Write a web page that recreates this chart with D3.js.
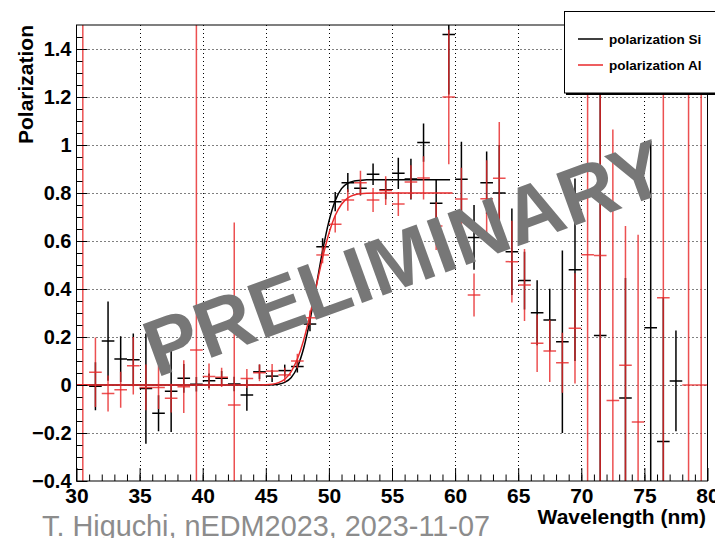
<!DOCTYPE html>
<html>
<head>
<meta charset="utf-8">
<script src="https://cdn.jsdelivr.net/npm/d3@7"></script>
<style>
  body { margin: 0; background: #fff; }
  svg { display: block; }
  text { font-family: "Liberation Sans", Arial, Helvetica, sans-serif; }
</style>
</head>
<body>
<svg id="chart" width="715" height="538"></svg>
<script>
// Bin centres (nm), 1 nm wide bins
const wavelength = [30.5, 31.5, 32.5, 33.5, 34.5, 35.5, 36.5, 37.5, 38.5, 39.5,
  40.5, 41.5, 42.5, 43.5, 44.5, 45.5, 46.5, 47.5, 48.5, 49.5,
  50.5, 51.5, 52.5, 53.5, 54.5, 55.5, 56.5, 57.5, 58.5, 59.5,
  60.5, 61.5, 62.5, 63.5, 64.5, 65.5, 66.5, 67.5, 68.5, 69.5,
  70.5, 71.5, 72.5, 73.5, 74.5, 75.5, 76.5, 77.5, 78.5, 79.5];

// polarization Si (black); null = no point
const siValue = [null, -0.005, 0.183, 0.108, 0.105, -0.015, -0.118, -0.026, 0.028, 0.003,
  0.018, 0.028, 0.004, -0.042, 0.055, 0.037, 0.06, 0.077, 0.254, 0.576,
  0.764, 0.843, 0.82, 0.878, 0.814, 0.882, 0.858, 1.01, 0.757, 1.46,
  0.857, 0.615, 0.843, 0.8, 0.555, 0.435, 0.301, 0.271, 0.18, 0.48,
  null, 0.206, null, -0.054, null, 0.239, -0.235, 0.017, null, null];
const siError = [null, 0.10, 0.165, 0.095, 0.11, 0.23, 0.075, 0.17, 0.06, 0.03,
  0.03, 0.03, 0.03, 0.065, 0.03, 0.025, 0.025, 0.025, 0.03, 0.035,
  0.04, 0.04, 0.03, 0.045, 0.04, 0.065, 0.085, 0.08, 0.1, 0.25,
  0.157, 0.135, 0.13, 0.2, 0.18, 0.12, 0.135, 0.13, 0.38, 0.38,
  null, 2.0, null, 0.5, null, 0.78, 0.6, 0.21, null, null];

// polarization Al (red)
const alValue = [0.0, 0.053, -0.035, -0.02, 0.08, -0.01, -0.01, -0.055, -0.007, 0.146,
  0.035, 0.032, -0.083, 0.027, 0.051, 0.058, 0.042, 0.10, 0.28, 0.542,
  0.67, 0.771, 0.843, 0.771, 0.81, 0.754, 0.846, 0.863, 0.662, 1.2,
  0.775, 0.375, 0.776, 0.861, 0.514, 0.417, 0.174, 0.142, 0.093, 0.236,
  0.543, 0.54, -0.065, 0.082, -0.154, null, 0.364, null, 0.0, 0.0];
const alError = [2.0, 0.145, 0.075, 0.075, 0.12, 0.095, 0.09, 0.06, 0.11, 2.0,
  0.055, 0.04, 0.76, 0.04, 0.035, 0.03, 0.03, 0.03, 0.03, 0.035,
  0.035, 0.045, 0.05, 0.05, 0.06, 0.05, 0.07, 0.09, 0.1, 0.28,
  0.13, 0.09, 0.16, 0.235, 0.17, 0.15, 0.12, 0.13, 0.125, 0.23,
  2.0, 2.0, 1.13, 0.58, 0.78, null, 2.0, null, 2.0, 2.0];

// fitted curves
const siFitX = [30, 44, 45, 45.5, 46, 46.5, 47, 47.5, 48, 48.5, 49, 49.5, 50, 50.5, 51, 51.5, 52, 52.5, 53, 54, 59.6];
const siFitY = [0, 0, 0.0001, 0.001, 0.0034, 0.011, 0.03, 0.074, 0.153, 0.269, 0.413, 0.559, 0.682, 0.768, 0.818, 0.841, 0.85, 0.853, 0.855, 0.855, 0.855];
const alFitX = [30, 44, 45, 45.5, 46, 46.5, 47, 47.5, 48, 48.5, 49, 49.5, 50, 50.5, 51, 51.5, 52, 52.5, 53, 54, 59.8];
const alFitY = [0, 0, 0.001, 0.003, 0.01, 0.024, 0.055, 0.108, 0.187, 0.292, 0.412, 0.53, 0.631, 0.706, 0.753, 0.78, 0.792, 0.797, 0.799, 0.8, 0.8];

const xTicks = [30, 35, 40, 45, 50, 55, 60, 65, 70, 75, 80];
const yTicks = [-0.4, -0.2, 0, 0.2, 0.4, 0.6, 0.8, 1, 1.2, 1.4];

const legendLabels = ['polarization Si', 'polarization Al'];
const seriesColors = ['#000000', '#e8292b'];

const svg = d3.select('#chart');
svg.append('rect').attr('width', 715).attr('height', 538).attr('fill', '#fff');

const x = d3.scaleLinear().domain([30, 80]).range([76.5, 707.5]);
const y = d3.scaleLinear().domain([-0.4, 1.5]).range([481, 25]);

// dotted grid
const grid = svg.append('g').attr('stroke', '#000').attr('stroke-width', 1).attr('stroke-dasharray', '1,3');
grid.selectAll('line.gx').data(xTicks.filter(d => d > 30 && d < 80)).join('line')
  .attr('x1', d => Math.round(x(d)) + 0.5).attr('x2', d => Math.round(x(d)) + 0.5)
  .attr('y1', y(1.5)).attr('y2', y(-0.4));
grid.selectAll('line.gy').data(yTicks.filter(d => d > -0.4)).join('line')
  .attr('y1', d => Math.round(y(d)) + 0.5).attr('y2', d => Math.round(y(d)) + 0.5)
  .attr('x1', x(30)).attr('x2', x(80));

// clip
svg.append('clipPath').attr('id', 'plotclip').append('rect')
  .attr('x', x(30)).attr('y', y(1.5)).attr('width', x(80) - x(30)).attr('height', y(-0.4) - y(1.5));
const plot = svg.append('g').attr('clip-path', 'url(#plotclip)');

function drawSeries(values, errors, color, opacity) {
  const pts = wavelength.map((w, i) => ({ w, v: values[i], e: errors[i] })).filter(d => d.v !== null);
  const g = plot.append('g').attr('stroke', color).attr('stroke-width', 1.5).attr('stroke-opacity', opacity);
  g.selectAll('line.v').data(pts).join('line')
    .attr('x1', d => x(d.w)).attr('x2', d => x(d.w))
    .attr('y1', d => y(d.v - d.e)).attr('y2', d => y(d.v + d.e));
  g.selectAll('line.h').data(pts).join('line')
    .attr('x1', d => x(d.w - 0.5)).attr('x2', d => x(d.w + 0.5))
    .attr('y1', d => y(d.v)).attr('y2', d => y(d.v));
}

function drawFit(fx, fy, color) {
  const line = d3.line().x(d => x(d[0])).y(d => y(d[1])).curve(d3.curveMonotoneX);
  plot.append('path').datum(fx.map((v, i) => [v, fy[i]]))
    .attr('d', line).attr('fill', 'none').attr('stroke', color).attr('stroke-width', 1.5);
}

drawSeries(siValue, siError, seriesColors[0], 1);
drawFit(siFitX, siFitY, seriesColors[0]);
drawSeries(alValue, alError, seriesColors[1], 0.82);
drawFit(alFitX, alFitY, seriesColors[1]);

// axes
function styleAxis(g) {
  g.select('.domain').remove();
  g.selectAll('line').attr('stroke', '#000').attr('stroke-width', 1);
  g.selectAll('text').attr('fill', '#000').attr('font-weight', 'bold');
}
svg.append('g').attr('transform', `translate(0,${y(-0.4)})`)
  .call(d3.axisBottom(x).tickValues(d3.range(31, 80, 1)).tickSize(-6.5).tickFormat(''))
  .call(styleAxis);
svg.append('g').attr('transform', `translate(0,${y(-0.4)})`)
  .call(d3.axisBottom(x).tickValues(xTicks).tickSize(-13).tickPadding(7).tickFormat(d3.format('d')))
  .call(styleAxis)
  .selectAll('text').attr('font-size', 21).attr('font-family', '"Liberation Sans", Arial, sans-serif');

svg.append('g').attr('transform', `translate(${x(30)},0)`)
  .call(d3.axisLeft(y).tickValues(d3.range(-0.35, 1.5, 0.05)).tickSize(-6).tickFormat(''))
  .call(styleAxis);
svg.append('g').attr('transform', `translate(${x(30)},0)`)
  .call(d3.axisLeft(y).tickValues(yTicks).tickSize(-11).tickPadding(5).tickFormat(d3.format('~g')))
  .call(styleAxis)
  .selectAll('text').attr('font-size', 20).attr('font-family', '"Liberation Sans", Arial, sans-serif');

// frame
svg.append('rect').attr('x', x(30)).attr('y', y(1.5))
  .attr('width', x(80) - x(30)).attr('height', y(-0.4) - y(1.5))
  .attr('fill', 'none').attr('stroke', '#000').attr('stroke-width', 1);

// axis titles
svg.append('text').attr('transform', `translate(33,${y(1.5)}) rotate(-90)`)
  .attr('text-anchor', 'end').attr('font-size', 21).attr('font-weight', 'bold')
  .text('Polarization');
svg.append('text').attr('x', 706).attr('y', 524)
  .attr('text-anchor', 'end').attr('font-size', 21).attr('font-weight', 'bold')
  .text('Wavelength (nm)');

// legend
const legend = svg.append('g');
legend.append('rect').attr('x', 566).attr('y', 13).attr('width', 170).attr('height', 82).attr('fill', '#000');
legend.append('rect').attr('x', 564.5).attr('y', 11.5).attr('width', 170).attr('height', 81.5)
  .attr('fill', '#fff').attr('stroke', '#000').attr('stroke-width', 1);
legendLabels.forEach((lab, i) => {
  const ly = 39 + i * 26;
  legend.append('line').attr('x1', 578).attr('x2', 603).attr('y1', ly).attr('y2', ly)
    .attr('stroke', seriesColors[i]).attr('stroke-width', 1.5);
  legend.append('text').attr('x', 609).attr('y', ly + 5)
    .attr('font-size', 13.5).attr('font-weight', 'bold').text(lab);
});

// watermark
svg.append('text').attr('transform', 'translate(414,284) rotate(-20)')
  .attr('text-anchor', 'middle').attr('font-size', 80).attr('font-weight', 'bold')
  .attr('fill', '#777').text('PRELIMINARY');

// footer
svg.append('text').attr('x', 42).attr('y', 536)
  .attr('font-family', 'Lato, "Open Sans", sans-serif').attr('font-size', 29)
  .attr('fill', '#8c8c8c').attr('textLength', 448).attr('lengthAdjust', 'spacingAndGlyphs')
  .text('T. Higuchi, nEDM2023, 2023-11-07');
</script>
</body>
</html>
